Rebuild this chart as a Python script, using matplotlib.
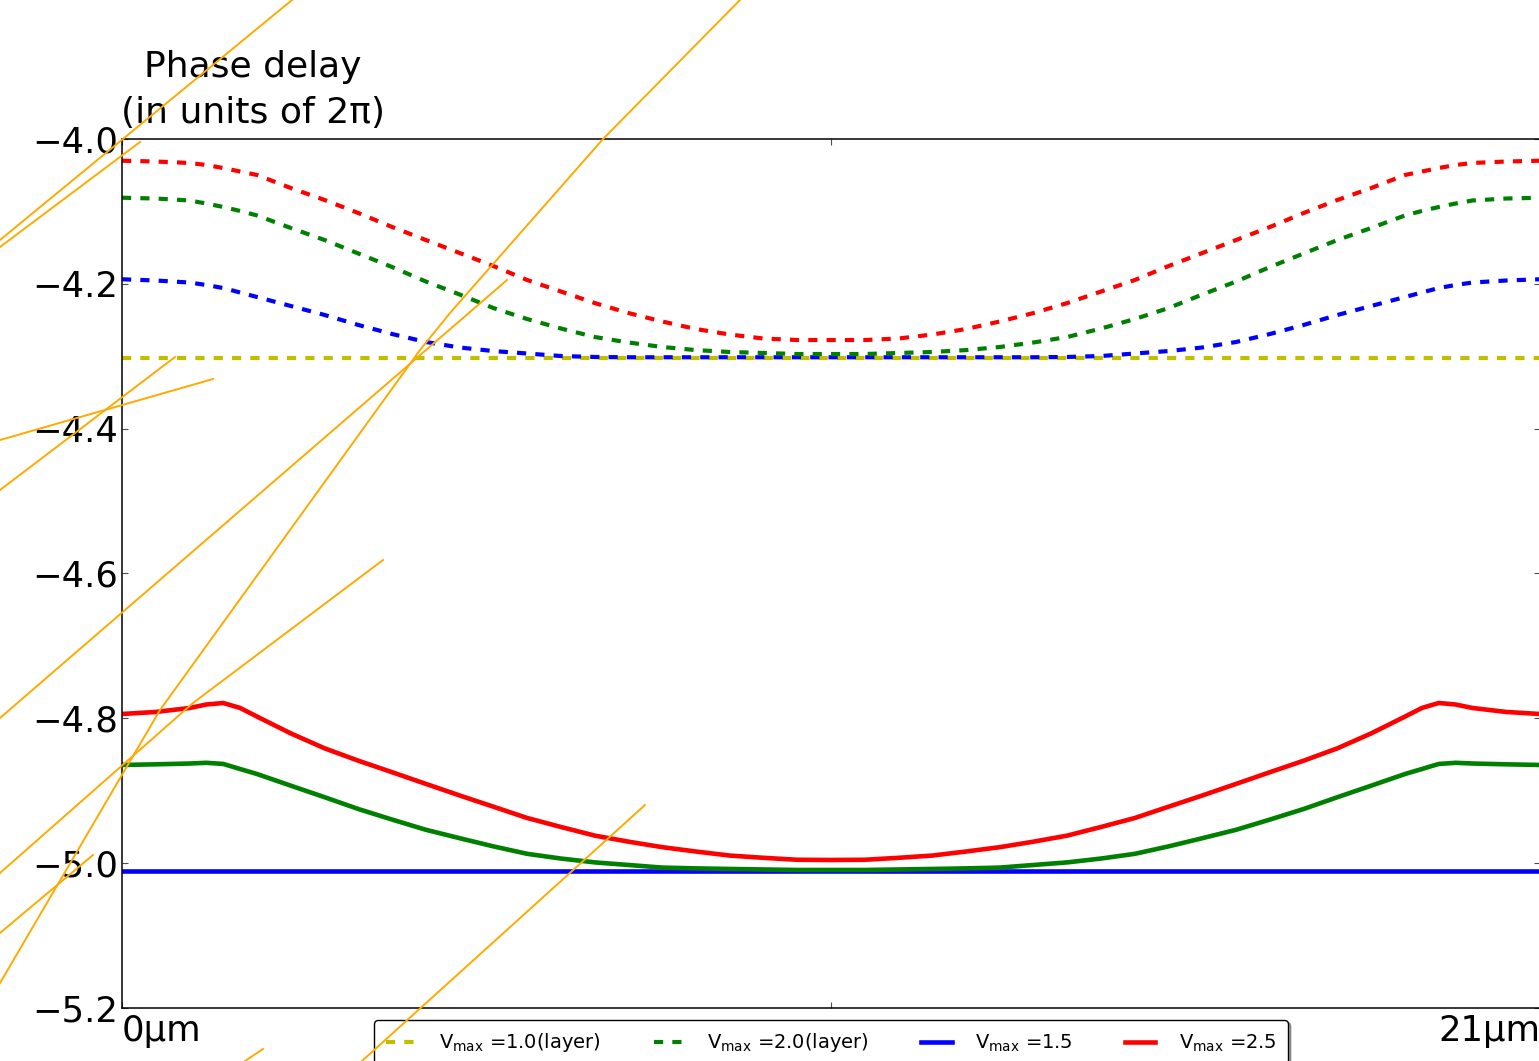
import matplotlib
matplotlib.use("Agg")
import matplotlib.pyplot as plt
from matplotlib.lines import Line2D

plt.rcParams["font.family"] = "DejaVu Sans"
plt.rcParams["lines.scale_dashes"] = False

# positions across one 21 um period (denser around the edge bumps)
x_um = [0, 0.5, 1, 1.25, 1.5, 1.75, 2, 2.5, 3, 3.5, 4, 4.5, 5, 5.5, 6, 6.5,
        7, 7.5, 8, 8.5, 9, 9.5, 10, 10.5,
        11, 11.5, 12, 12.5, 13, 13.5, 14, 14.5, 15, 15.5, 16, 16.5, 17, 17.5,
        18, 18.5, 19, 19.25, 19.5, 19.75, 20, 20.5, 21]

# phase delay (units of 2 pi), layer model (dashed)
layer_v10 = [-4.303] * len(x_um)
layer_v15 = [-4.1937, -4.1954, -4.1982, -4.2016, -4.2058, -4.2120, -4.2182,
             -4.2306, -4.2430, -4.2568, -4.2693, -4.2803, -4.2879, -4.2928,
             -4.2962, -4.2997, -4.3010, -4.3014, -4.3014, -4.3014, -4.3014,
             -4.3014, -4.3014, -4.3014,
             -4.3014, -4.3014, -4.3014, -4.3014, -4.3014, -4.3014, -4.3010,
             -4.2997, -4.2962, -4.2928, -4.2879, -4.2803, -4.2693, -4.2568,
             -4.2430, -4.2306, -4.2182, -4.2120, -4.2058, -4.2016, -4.1982,
             -4.1954, -4.1937]
layer_v20 = [-4.0811, -4.0822, -4.0849, -4.0891, -4.0939, -4.0994, -4.1056,
             -4.1229, -4.1395, -4.1581, -4.1768, -4.1968, -4.2147, -4.2334,
             -4.2486, -4.2617, -4.2734, -4.2810, -4.2872, -4.2915, -4.2941,
             -4.2955, -4.2969, -4.2969,
             -4.2969, -4.2955, -4.2941, -4.2915, -4.2872, -4.2810, -4.2734,
             -4.2617, -4.2486, -4.2334, -4.2147, -4.1968, -4.1768, -4.1581,
             -4.1395, -4.1229, -4.1056, -4.0994, -4.0939, -4.0891, -4.0849,
             -4.0822, -4.0811]
layer_v25 = [-4.0300, -4.0311, -4.0331, -4.0359, -4.0401, -4.0449, -4.0497,
             -4.0677, -4.0842, -4.1022, -4.1215, -4.1395, -4.1574, -4.1754,
             -4.1947, -4.2106, -4.2265, -4.2403, -4.2520, -4.2624, -4.2700,
             -4.2755, -4.2776, -4.2776,
             -4.2776, -4.2755, -4.2700, -4.2624, -4.2520, -4.2403, -4.2265,
             -4.2106, -4.1947, -4.1754, -4.1574, -4.1395, -4.1215, -4.1022,
             -4.0842, -4.0677, -4.0497, -4.0449, -4.0401, -4.0359, -4.0331,
             -4.0311, -4.0300]

# full simulation (solid)
full_v15 = [-5.0115] * len(x_um)
full_v20 = [-4.8644, -4.8635, -4.8624, -4.8614, -4.8630, -4.8700, -4.8769,
            -4.8930, -4.9089, -4.9252, -4.9398, -4.9539, -4.9655, -4.9768,
            -4.9871, -4.9936, -4.9989, -5.0025, -5.0061, -5.0072, -5.0080,
            -5.0087, -5.0094, -5.0094,
            -5.0094, -5.0087, -5.0080, -5.0072, -5.0061, -5.0025, -4.9989,
            -4.9936, -4.9871, -4.9768, -4.9655, -4.9539, -4.9398, -4.9252,
            -4.9089, -4.8930, -4.8769, -4.8700, -4.8630, -4.8614, -4.8624,
            -4.8635, -4.8644]
full_v25 = [-4.7940, -4.7912, -4.7857, -4.7809, -4.7788, -4.7857, -4.7976,
            -4.8208, -4.8414, -4.8585, -4.8744, -4.8905, -4.9065, -4.9220,
            -4.9376, -4.9500, -4.9619, -4.9703, -4.9779, -4.9839, -4.9895,
            -4.9926, -4.9953, -4.9956,
            -4.9953, -4.9926, -4.9895, -4.9839, -4.9779, -4.9703, -4.9619,
            -4.9500, -4.9376, -4.9220, -4.9065, -4.8905, -4.8744, -4.8585,
            -4.8414, -4.8208, -4.7976, -4.7857, -4.7788, -4.7809, -4.7857,
            -4.7912, -4.7940]

y_ticks = [-5.2, -5.0, -4.8, -4.6, -4.4, -4.2, -4.0]
x_ticks = [0, 10.5, 21]
x_ticklabels = ["0µm", "", "21µm"]

legend_labels = [r"V$_{\mathrm{max}}$ =1.0(layer)",
                 r"V$_{\mathrm{max}}$ =2.0(layer)",
                 r"V$_{\mathrm{max}}$ =1.5",
                 r"V$_{\mathrm{max}}$ =2.5"]

# loose orange pen strokes over the figure, pixel coords from top-left
strokes_px = [
    [(292, 0), (0, 240)],
    [(140, 142), (0, 247)],
    [(175, 357), (0, 490)],
    [(213, 379), (0, 440)],
    [(507, 280), (0, 718)],
    [(740, 0), (603, 139), (450, 313), (420, 350), (160, 710), (0, 983)],
    [(383, 560), (193, 703), (0, 873)],
    [(93, 855), (0, 933)],
    [(263, 1049), (245, 1061)],
    [(645, 805), (362, 1061)],
]

W, H = 1539, 1061
fig = plt.figure(figsize=(W / 100, H / 100), dpi=100)
ax = fig.add_axes([122 / W, 1 - 1008 / H, 1418 / W, 869 / H])

dash = (6.6, 6.6)
ax.plot(x_um, layer_v10, color="y", lw=3, dashes=dash)
ax.plot(x_um, layer_v15, color="b", lw=3, dashes=dash)
ax.plot(x_um, layer_v20, color="g", lw=3, dashes=dash)
ax.plot(x_um, layer_v25, color="r", lw=3, dashes=dash)
ax.plot(x_um, full_v15, color="b", lw=3.3)
ax.plot(x_um, full_v20, color="g", lw=3.3)
ax.plot(x_um, full_v25, color="r", lw=3.3)

ax.set_xlim(0, 21)
ax.set_ylim(-5.2, -4.0)
ax.set_yticks(y_ticks)
ax.set_xticks(x_ticks)
ax.set_xticklabels(x_ticklabels)
xt = ax.get_xticklabels()
xt[0].set_ha("left")
xt[-1].set_ha("right")
ax.tick_params(direction="in", length=4.5, width=0.8, color="0.3",
               labelsize=25.5, top=True, right=True)
ax.tick_params(axis="y", pad=3)
ax.tick_params(axis="x", pad=4)
for sp in ax.spines.values():
    sp.set_linewidth(1.1)

fig.text(253 / W, 1 - 123 / H, "Phase delay\n(in units of 2π)",
         ha="center", va="baseline", fontsize=26, multialignment="center",
         linespacing=1.45)

handles = [Line2D([], [], color="y", lw=3, dashes=dash),
           Line2D([], [], color="g", lw=3, dashes=dash),
           Line2D([], [], color="b", lw=3.3),
           Line2D([], [], color="r", lw=3.3)]
leg = ax.legend(handles, legend_labels, loc="upper center",
                bbox_to_anchor=(0.5, 0), ncol=4, fontsize=14,
                handlelength=1.55, handletextpad=1.2, columnspacing=2.7,
                borderpad=0.6, borderaxespad=0.6, fancybox=True,
                shadow=True, frameon=True)
leg.get_frame().set_edgecolor("black")
leg.get_frame().set_linewidth(1.0)

for pts in strokes_px:
    xs = [p[0] / W for p in pts]
    ys = [1 - p[1] / H for p in pts]
    fig.add_artist(Line2D(xs, ys, color="#FFAA00", lw=1.4,
                          transform=fig.transFigure, zorder=10))

fig.savefig("out.png", dpi=100)
